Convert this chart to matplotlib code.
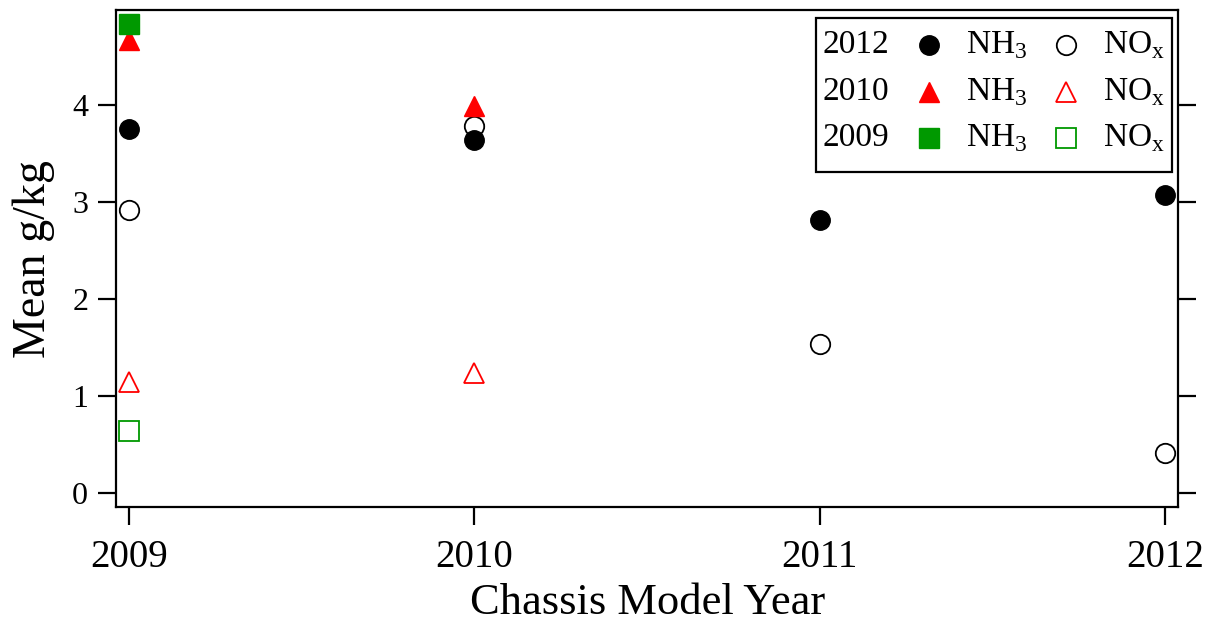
import matplotlib
matplotlib.use('Agg')
import matplotlib.pyplot as plt
from matplotlib.patches import Rectangle

plt.rcParams['font.family'] = ['Liberation Serif', 'DejaVu Serif']
plt.rcParams['mathtext.fontset'] = 'custom'
plt.rcParams['mathtext.rm'] = 'Liberation Serif'

years = [2009, 2010, 2011, 2012]

# mean emission factors by chassis model year, per campaign
nh3_2012 = [3.75, 3.64, 2.82, 3.07]
nox_2012 = [2.92, 3.78, 1.54, 0.42]
nh3_2010 = [4.67, 3.99]
nox_2010 = [1.15, 1.24]
nh3_2009 = [4.84]
nox_2009 = [0.64]

green = '#009900'
red = '#ff0000'
ms = 14

fig = plt.figure(figsize=(12.16, 6.23), dpi=100)
ax = fig.add_axes([116/1216, (623-507)/623, (1178-116)/1216, (507-10)/623])

ax.plot(years, nh3_2012, 'o', color='black', ms=ms, mec='black')
ax.plot(years, nox_2012, 'o', mfc='none', mec='black', ms=ms, mew=1.3)
ax.plot(years[:2], nh3_2010, '^', color=red, ms=ms)
ax.plot(years[:2], nox_2010, '^', mfc='none', mec=red, ms=ms, mew=1.3)
ax.plot(years[:1], nh3_2009, 's', color=green, ms=ms)
ax.plot(years[:1], nox_2009, 's', mfc='none', mec=green, ms=ms, mew=1.3)

ax.set_xlim(2008.962, 2012.038)
ax.set_ylim(-0.14, 4.98)
ax.set_xticks(years)
ax.set_xticklabels([str(y) for y in years])
ax.set_yticks([0, 1, 2, 3, 4])

for s in ax.spines.values():
    s.set_linewidth(1.6)
ax.tick_params(axis='both', direction='out', length=13, width=1.6)
ax.tick_params(axis='x', labelsize=28, pad=10)
ax.tick_params(axis='y', labelsize=23, pad=7, right=True)

ax.set_xlabel('Chassis Model Year', fontsize=32)
ax.set_ylabel('Mean g/kg', fontsize=33)
ax.xaxis.set_label_coords(0.501, -0.153)
ax.yaxis.set_label_coords(-0.057, 0.499)

# hand-built legend box
ax.add_patch(Rectangle((0.659, 0.674), 0.335, 0.31, transform=ax.transAxes,
                       fill=False, lw=1.6, ec='black', zorder=5))
rows = [('2012', 'o', 'black'), ('2010', '^', red), ('2009', 's', green)]
row_y = [45, 92, 138]
for (lab, mk, col), py in zip(rows, row_y):
    yy = (507 - py) / 497
    ax.text((822-116)/1062, yy, lab, transform=ax.transAxes, fontsize=24,
            va='center', ha='left')
    ax.plot([(929-116)/1062], [yy], mk, color=col, ms=ms, transform=ax.transAxes,
            clip_on=False)
    ax.text((966-116)/1062, yy, r'NH$_3$', transform=ax.transAxes, fontsize=24,
            va='center', ha='left')
    ax.plot([(1066-116)/1062], [yy], mk, mfc='none', mec=col, ms=ms, mew=1.3,
            transform=ax.transAxes, clip_on=False)
    ax.text((1103-116)/1062, yy, r'NO$_\mathrm{x}$', transform=ax.transAxes,
            fontsize=24, va='center', ha='left')

fig.savefig('out.png', dpi=100)
